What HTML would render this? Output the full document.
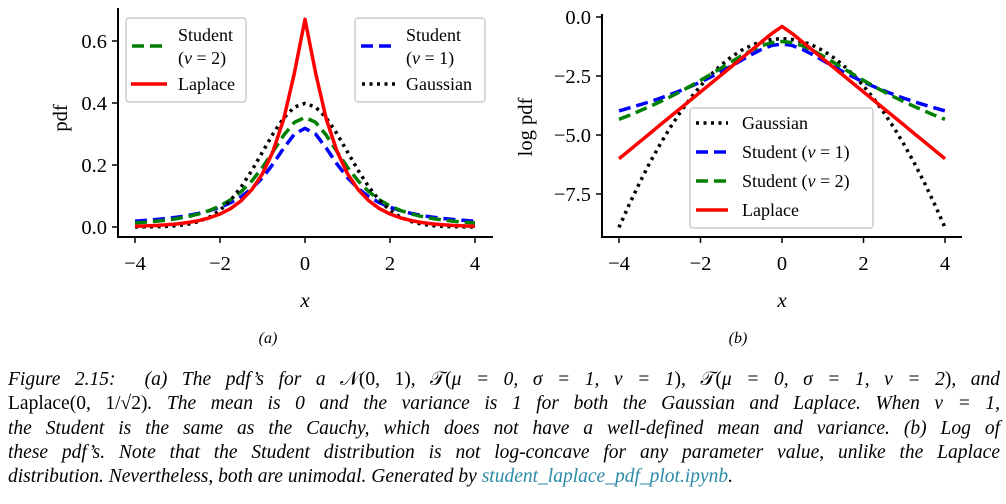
<!DOCTYPE html>
<html><head><meta charset="utf-8">
<style>
body{margin:0;width:1006px;height:504px;background:#fff;overflow:hidden;font-family:"Liberation Serif",serif;}
#cap{position:absolute;left:8px;top:368px;width:992px;font-size:19.5px;font-style:italic;color:#000;}
#cap div{height:24.3px;line-height:24.3px;text-align:justify;text-align-last:justify;white-space:nowrap;}
#cap div.last{text-align-last:left;}
.up{font-style:normal;}
a{color:#2a8aa8;text-decoration:none;}
</style></head><body>
<svg id="chart" width="1006" height="360" style="position:absolute;left:0;top:0" font-family="Liberation Serif, serif"></svg>
<div id="cap">
<div>Figure 2.15: &nbsp;(a) The pdf’s for a <span class="up">𝒩(0, 1)</span>, <span class="up">𝒯(</span>μ = 0, σ = 1, ν = 1<span class="up">)</span>, <span class="up">𝒯(</span>μ = 0, σ = 1, ν = 2<span class="up">)</span>, and</div>
<div><span class="up">Laplace(0, 1/√2)</span>. The mean is 0 and the variance is 1 for both the Gaussian and Laplace. When ν = 1,</div>
<div>the Student is the same as the Cauchy, which does not have a well-defined mean and variance. (b) Log of</div>
<div>these pdf’s. Note that the Student distribution is not log-concave for any parameter value, unlike the Laplace</div>
<div class="last">distribution. Nevertheless, both are unimodal. Generated by <a>student_laplace_pdf_plot.ipynb</a>.</div>
</div>
<script>
const xs=[-4,-3.75,-3.5,-3.25,-3,-2.75,-2.5,-2.25,-2,-1.75,-1.5,-1.25,-1,-0.75,-0.5,-0.25,0,0.25,0.5,0.75,1,1.25,1.5,1.75,2,2.25,2.5,2.75,3,3.25,3.5,3.75,4];
const gaussHalf=[0.3989,0.3867,0.3521,0.3011,0.2420,0.1826,0.1295,0.0863,0.0540,0.0317,0.0175,0.0091,0.00443,0.00203,0.000873,0.000353,0.000134];
const cauchyHalf=[0.3183,0.2996,0.2546,0.2037,0.1592,0.1242,0.0979,0.0784,0.0637,0.0525,0.0439,0.0372,0.0318,0.0275,0.0241,0.0212,0.0187];
const student2Half=[0.3536,0.3376,0.2963,0.2438,0.1925,0.1487,0.1141,0.0878,0.0680,0.0533,0.0422,0.0338,0.0274,0.0225,0.0186,0.0155,0.0131];
const laplaceHalf=[0.67,0.4965,0.3487,0.2448,0.1719,0.1207,0.0848,0.0595,0.0418,0.0294,0.0206,0.0145,0.0102,0.0071,0.0050,0.0035,0.00246];
const xTicks=[-4,-2,0,2,4];
const pdfTicks=[0,0.2,0.4,0.6];
const logTicks=[0,-2.5,-5,-7.5];
function sym(h){return h.slice(1).reverse().concat(h);}
const gauss=sym(gaussHalf),cauchy=sym(cauchyHalf),student2=sym(student2Half),laplace=sym(laplaceHalf);
const svg=document.getElementById('chart');
const NS='http://www.w3.org/2000/svg';
function el(t,a,p){const e=document.createElementNS(NS,t);for(const k in a)e.setAttribute(k,a[k]);(p||svg).appendChild(e);return e;}
function fmt(v){const s=(Math.abs(v)<1e-9?0:v).toFixed(1);return s.replace('-','\u2212');}
const styles={
 gauss:{stroke:'#000','stroke-dasharray':'3,4.5','stroke-width':3.5},
 cauchy:{stroke:'#0000ff','stroke-dasharray':'12,6','stroke-width':3.5},
 student2:{stroke:'#008000','stroke-dasharray':'12,6','stroke-width':3.5},
 laplace:{stroke:'#ff0000','stroke-width':3.5}
};
function panel(name,X,Y,yt,log,ax){
 const g=el('g',{});
 
 
 const order=log?[['gauss',gauss],['cauchy',cauchy],['student2',student2],['laplace',laplace]]:[['cauchy',cauchy],['student2',student2],['gauss',gauss],['laplace',laplace]];
 for(const [k,arr] of order){
  const d=arr.map((v,i)=>(i?'L':'M')+X(xs[i]).toFixed(2)+','+Y(log?Math.log(v):v).toFixed(2)).join('');
  const p=el('path',Object.assign({d:d,fill:'none','stroke-linejoin':'round'},styles[k]),g);
  
  
 }
 const a=el('path',{d:`M${ax.x0},${ax.yTop}V${ax.yb}H${ax.x1}`,fill:'none',stroke:'#000','stroke-width':2},g);
 
 
 for(const t of xTicks){
  el('line',{x1:X(t),x2:X(t),y1:ax.yb,y2:ax.yb+6,stroke:'#000','stroke-width':1.5},g);
  const tx=el('text',{x:X(t),y:ax.yb+33,'font-size':20.5,'text-anchor':'middle'},g);
  tx.textContent=t<0?'\u2212'+(-t):String(t);
  
  
 }
 for(const t of yt){
  el('line',{x1:ax.x0,x2:ax.x0-6,y1:Y(t),y2:Y(t),stroke:'#000','stroke-width':1.5},g);
  const tx=el('text',{x:ax.x0-11,y:Y(t)+7,'font-size':20.5,'text-anchor':'end'},g);
  tx.textContent=fmt(t);
  
  
 }
}
const X1=v=>305+v*42.5, Y1=v=>227-v*310;
panel('pdf-panel',X1,Y1,pdfTicks,false,{x0:118,x1:493,yb:237,yTop:8});
const X2=v=>782+v*40.75, Y2=v=>17-v*23.6;
panel('log-pdf-panel',X2,Y2,logTicks,true,{x0:602,x1:962,yb:237,yTop:14});
function txt(s,a,name,html){const t=el('text',a);if(html)t.innerHTML=s;else t.textContent=s;return t;}
txt('pdf',{x:0,y:0,'font-size':20.5,transform:'translate(67,118) rotate(-90)','text-anchor':'middle'},'y-axis-title');
txt('log pdf',{x:0,y:0,'font-size':20.5,transform:'translate(532,127) rotate(-90)','text-anchor':'middle'},'y-axis-title-log');
txt('x',{x:305,y:307,'font-size':21,'font-style':'italic','text-anchor':'middle'},'x-axis-title');
txt('x',{x:782,y:307,'font-size':21,'font-style':'italic','text-anchor':'middle'},'x-axis-title-log');
txt('(a)',{x:268,y:343,'font-size':16,'font-style':'italic','text-anchor':'middle'},'panel-a-label');
txt('(b)',{x:738,y:343,'font-size':16,'font-style':'italic','text-anchor':'middle'},'panel-b-label');
function legendBox(x,y,w,h,name){const r=el('rect',{x:x,y:y,width:w,height:h,rx:3,fill:'#fff','fill-opacity':0.85,stroke:'#ccc','stroke-width':1.5});}
function handle(k,x,y,w){const l=el('line',Object.assign({x1:x,x2:x+w,y1:y,y2:y},styles[k]));}
legendBox(126,18,120,84,'legend-left');
handle('student2',132,46,33);
txt('Student',{x:178,y:41,'font-size':18},'legend-entry');
txt('(<tspan font-style="italic">ν</tspan> = 2)',{x:178,y:64,'font-size':18},'legend-entry',true);
handle('laplace',131,84,36);
txt('Laplace',{x:178,y:90,'font-size':18},'legend-entry');
legendBox(355,18,130,84,'legend-right');
handle('cauchy',361,46,33);
txt('Student',{x:406,y:41,'font-size':18},'legend-entry');
txt('(<tspan font-style="italic">ν</tspan> = 1)',{x:406,y:64,'font-size':18},'legend-entry',true);
handle('gauss',362,84,33);
txt('Gaussian',{x:406,y:90,'font-size':18},'legend-entry');
legendBox(690,108,183,120,'legend-log');
const le=[['gauss','Gaussian'],['cauchy','Student (<tspan font-style="italic">ν</tspan> = 1)'],['student2','Student (<tspan font-style="italic">ν</tspan> = 2)'],['laplace','Laplace']];
le.forEach((e,i)=>{const y=123+i*29;handle(e[0],696,y,32);txt(e[1],{x:742,y:y+6,'font-size':18},'legend-entry',true);});
</script>
</body></html>
